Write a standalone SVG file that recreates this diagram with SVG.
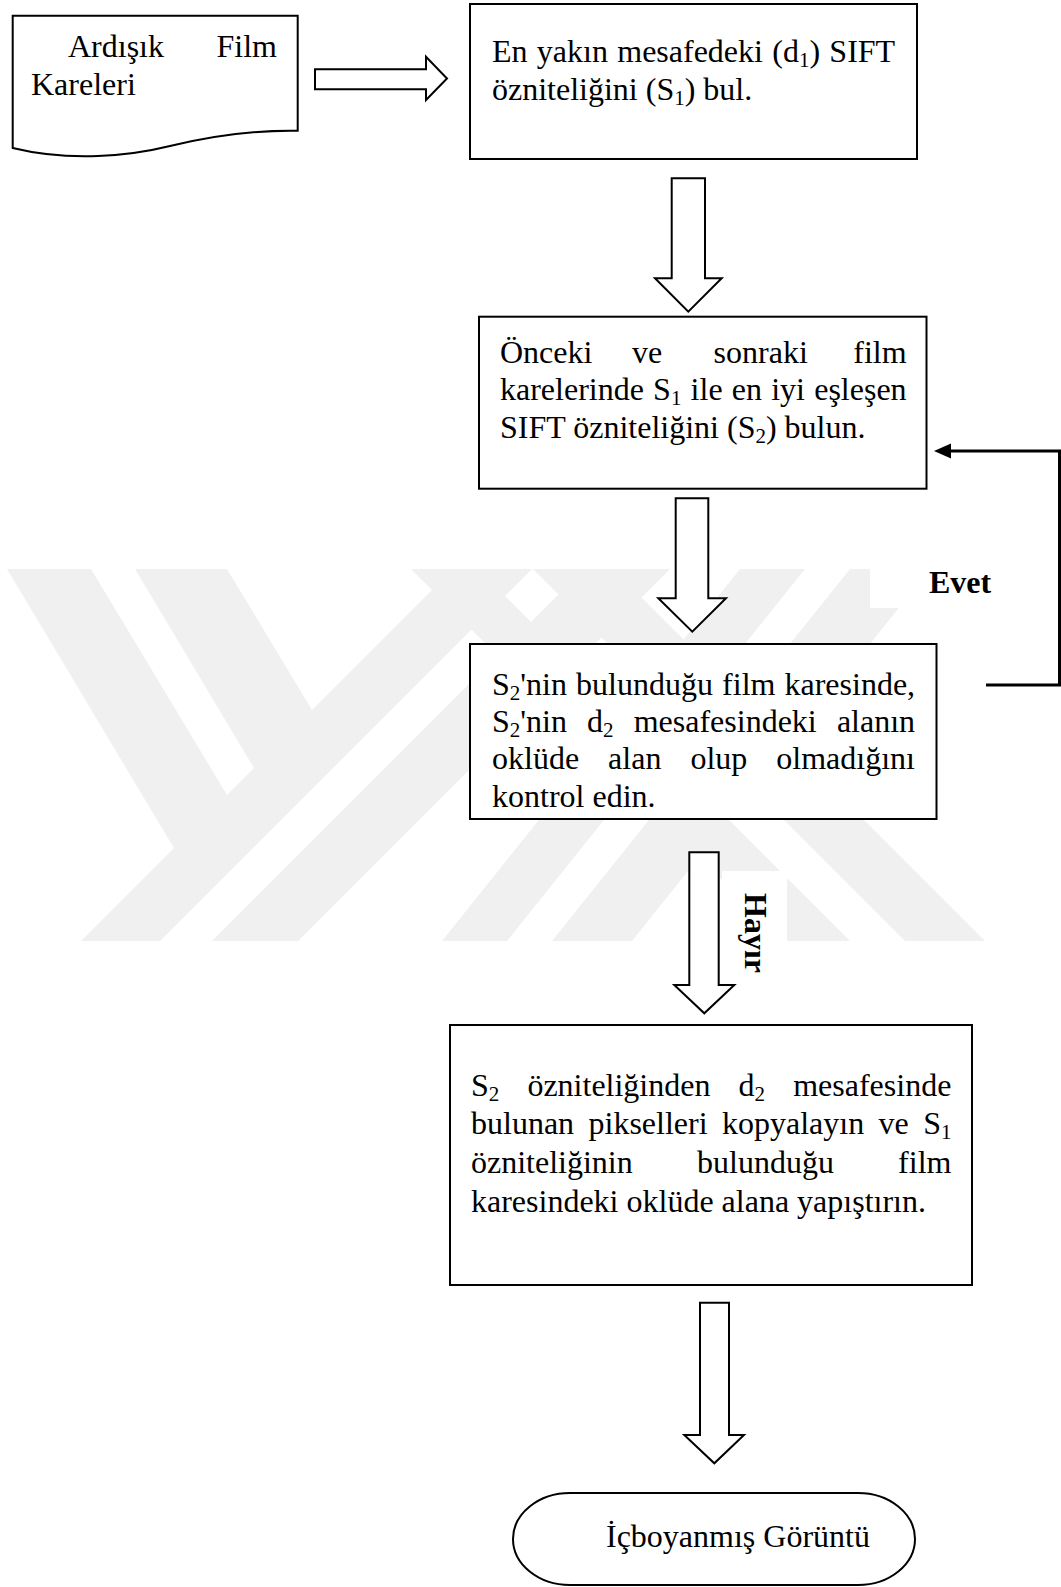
<svg xmlns="http://www.w3.org/2000/svg" width="1061" height="1587" viewBox="0 0 1061 1587">
<style>
.bg{fill:#ffffff}
.wm{fill:#f0f0f0}
.lbl{fill:#ffffff}
.box{fill:#ffffff;stroke:#000;stroke-width:2}
.arr{fill:#ffffff;stroke:#000;stroke-width:2;stroke-linejoin:miter}
.head{fill:#000}
.t{font-family:"Liberation Serif","Times New Roman",serif;font-size:32px;fill:#000}
.b{font-weight:bold}
.sub{font-size:21px}
.line{fill:none;stroke:#000;stroke-width:3}
</style>
<rect class="bg" x="0" y="0" width="1061" height="1587"/>

<g id="watermark">
<polygon class="wm" points="7,569 91,569 227,795 174,848"/>
<polygon class="wm" points="135,569 227,569 312,710 254,768"/>
<polygon class="wm" points="81,941 160,941 532,569 453,569"/>
<polygon class="wm" points="212,941 298,941 670,569 584,569"/>
<polygon class="wm" points="411,569 478,569 850,941 783,941"/>
<polygon class="wm" points="533,569 613,569 985,941 905,941"/>
<polygon class="wm" points="740,569 805,569 507,941 442,941"/>
<polygon class="wm" points="850,569 930,569 632,941 552,941"/>
</g>

<g id="connectors">
<polygon class="arr" points="315,69.3 426,69.3 426,56.7 447,78.5 426,100 426,89.3 315,89.3"/>
<polygon class="arr" points="671.7,178.3 705,178.3 705,278.3 721.7,278.3 688.3,311.7 655,278.3 671.7,278.3"/>
<polygon class="arr" points="675.7,498.3 708.3,498.3 708.3,598.3 726,598.3 692.3,631.7 658.3,598.3 675.7,598.3"/>
<polygon class="arr" points="689.3,852.3 718.7,852.3 718.7,985 734.3,985 704.3,1013.3 674.3,985 689.3,985"/>
<polygon class="arr" points="700,1302.7 729,1302.7 729,1435 744,1435 714.3,1463.3 684.3,1435 700,1435"/>
<polyline class="line" points="986,685 1059.5,685 1059.5,451 948,451"/>
<polygon class="head" points="934,451 951,443.5 951,458.5"/>
<rect class="lbl" x="870" y="545" width="130" height="63"/>
<text class="t b" x="929" y="592.7">Evet</text>
<rect class="lbl" x="722" y="871" width="65" height="72"/>
<text class="t b" transform="translate(745,893) rotate(90)" x="0" y="0">Hayır</text>
</g>

<g id="n-input">
<path class="box" d="M12.7,15.7 H297.7 V130.7 C255,130 215,135 170,146 C130,156 70,162 12.7,148 Z"/>
<text class="t" x="68" y="56.7">Ardışık</text>
<text class="t" x="216.5" y="56.7">Film</text>
<text class="t" x="31" y="95">Kareleri</text>
</g>

<g id="n-step1">
<rect class="box" x="470" y="4" width="447" height="155"/>
<text class="t" x="492" y="62" word-spacing="1.3">En yakın mesafedeki (d<tspan class="sub" dy="5">1</tspan><tspan dy="-5">) SIFT</tspan></text>
<text class="t" x="492" y="100">özniteliğini (S<tspan class="sub" dy="5">1</tspan><tspan dy="-5">) bul.</tspan></text>
</g>

<g id="n-step2">
<rect class="box" x="479" y="316.7" width="447.5" height="172"/>
<text class="t" y="363"><tspan x="500">Önceki</tspan><tspan x="632">ve</tspan><tspan x="713.6">sonraki</tspan><tspan x="853.3">film</tspan></text>
<text class="t" y="400"><tspan x="500">karelerinde</tspan><tspan x="653.1">S</tspan><tspan class="sub" dy="5">1</tspan><tspan x="690.6" dy="-5">ile</tspan><tspan x="731.8">en</tspan><tspan x="771.2">iyi</tspan><tspan x="814.2">eşleşen</tspan></text>
<text class="t" x="500" y="438">SIFT özniteliğini (S<tspan class="sub" dy="5">2</tspan><tspan dy="-5">) bulun.</tspan></text>
</g>

<g id="n-check">
<rect class="box" x="470" y="644" width="466.5" height="175"/>
<text class="t" y="695"><tspan x="492">S</tspan><tspan class="sub" dy="5">2</tspan><tspan dy="-5">'nin</tspan><tspan x="576.1">bulunduğu</tspan><tspan x="722.1">film</tspan><tspan x="784.5">karesinde,</tspan></text>
<text class="t" y="732"><tspan x="492">S</tspan><tspan class="sub" dy="5">2</tspan><tspan dy="-5">'nin</tspan><tspan x="587.1">d</tspan><tspan class="sub" dy="5">2</tspan><tspan x="633.7" dy="-5">mesafesindeki</tspan><tspan x="836.9">alanın</tspan></text>
<text class="t" y="769"><tspan x="492">oklüde</tspan><tspan x="608.1">alan</tspan><tspan x="690.4">olup</tspan><tspan x="776.3">olmadığını</tspan></text>
<text class="t" x="492" y="807">kontrol edin.</text>
</g>

<g id="n-copy">
<rect class="box" x="450" y="1025" width="522" height="260"/>
<text class="t" y="1096"><tspan x="471">S</tspan><tspan class="sub" dy="5">2</tspan><tspan x="527.4" dy="-5">özniteliğinden</tspan><tspan x="738.6">d</tspan><tspan class="sub" dy="5">2</tspan><tspan x="793.2" dy="-5">mesafesinde</tspan></text>
<text class="t" y="1134"><tspan x="471">bulunan</tspan><tspan x="588.5">pikselleri</tspan><tspan x="722">kopyalayın</tspan><tspan x="878.6">ve</tspan><tspan x="923.2">S</tspan><tspan class="sub" dy="5">1</tspan></text>
<text class="t" y="1173"><tspan x="471">özniteliğinin</tspan><tspan x="697">bulunduğu</tspan><tspan x="898.1">film</tspan></text>
<text class="t" x="471" y="1212">karesindeki oklüde alana yapıştırın.</text>
</g>

<g id="n-output">
<path class="box" d="M570,1493 H858 A57,46 0 0 1 858,1585 H570 A57,46 0 0 1 570,1493 Z"/>
<text class="t" x="606" y="1547">İçboyanmış Görüntü</text>
</g>
</svg>
